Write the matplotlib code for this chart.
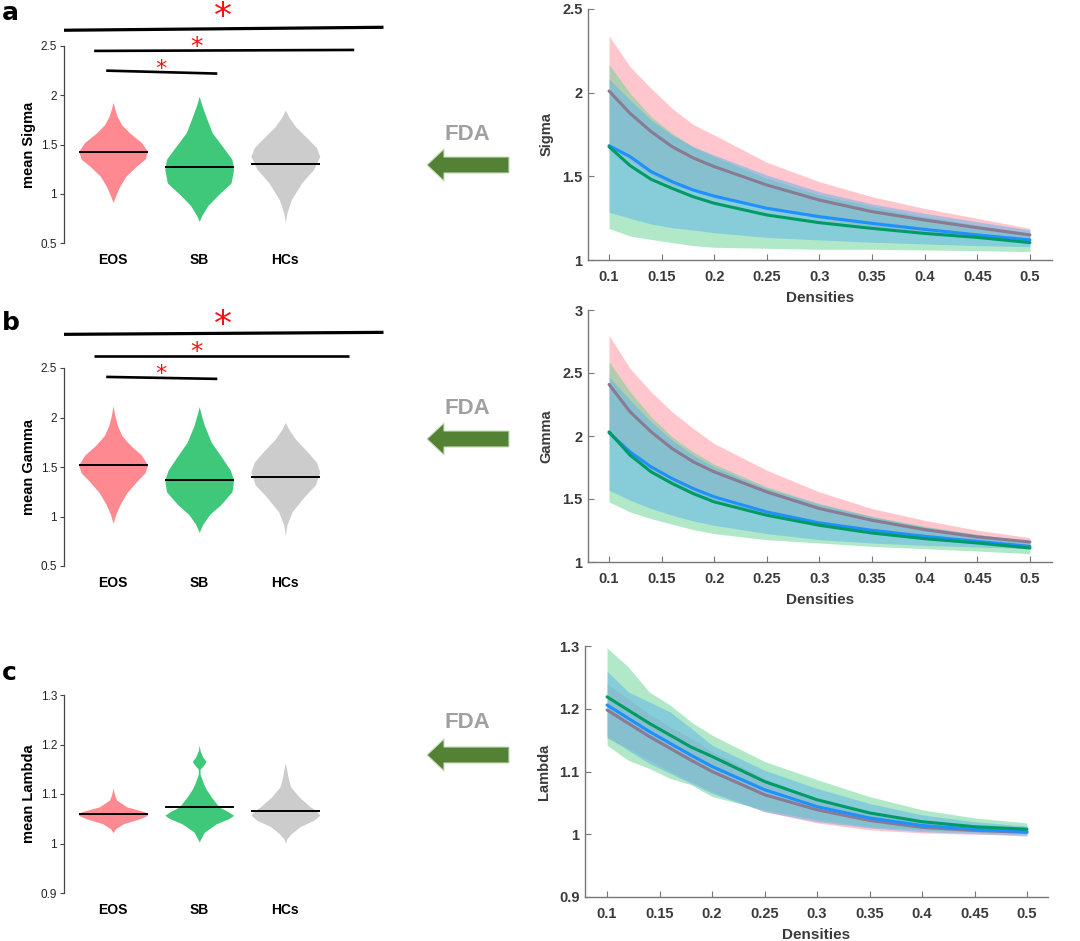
import matplotlib
matplotlib.use("Agg")
import matplotlib.pyplot as plt
from matplotlib.patches import FancyArrow

plt.rcParams["font.family"] = ["Liberation Sans", "DejaVu Sans"]

W, H = 1080, 941

groups = ["EOS", "SB", "HCs"]
violin_colors = ["#FF7F87", "#2EC46E", "#C8C8C8"]

# ---- violin outlines: y positions and half widths ----
sigma_violin_y = [
    [0.91, 0.98, 1.08, 1.18, 1.28, 1.35, 1.43, 1.52, 1.62, 1.70, 1.78, 1.86, 1.93],
    [0.72, 0.78, 0.88, 0.98, 1.11, 1.25, 1.35, 1.48, 1.62, 1.78, 1.90, 1.99],
    [0.71, 0.81, 0.94, 1.11, 1.25, 1.38, 1.47, 1.55, 1.68, 1.78, 1.85],
]
sigma_violin_w = [
    [0.0, 0.03, 0.08, 0.15, 0.27, 0.37, 0.40, 0.33, 0.19, 0.10, 0.05, 0.02, 0.0],
    [0.0, 0.03, 0.10, 0.21, 0.37, 0.40, 0.38, 0.27, 0.15, 0.08, 0.03, 0.0],
    [0.0, 0.02, 0.07, 0.19, 0.33, 0.40, 0.36, 0.27, 0.12, 0.04, 0.0],
]
sigma_means = [1.42, 1.27, 1.30]

gamma_violin_y = [
    [0.93, 1.02, 1.12, 1.24, 1.36, 1.44, 1.52, 1.62, 1.72, 1.82, 1.92, 2.02, 2.12],
    [0.84, 0.92, 1.02, 1.12, 1.25, 1.37, 1.47, 1.60, 1.75, 1.92, 2.04, 2.11],
    [0.81, 0.92, 1.05, 1.20, 1.32, 1.45, 1.55, 1.65, 1.78, 1.88, 1.95],
]
gamma_violin_w = [
    [0.0, 0.03, 0.08, 0.16, 0.28, 0.37, 0.40, 0.33, 0.20, 0.10, 0.05, 0.02, 0.0],
    [0.0, 0.04, 0.12, 0.25, 0.38, 0.40, 0.36, 0.26, 0.14, 0.06, 0.02, 0.0],
    [0.0, 0.02, 0.08, 0.22, 0.35, 0.40, 0.36, 0.26, 0.12, 0.04, 0.0],
]
gamma_means = [1.52, 1.37, 1.40]

lambda_violin_y = [
    [1.022, 1.03, 1.04, 1.05, 1.057, 1.064, 1.074, 1.088, 1.10, 1.112],
    [1.003, 1.01, 1.023, 1.04, 1.05, 1.057, 1.065, 1.074, 1.094, 1.11, 1.121,
     1.14, 1.15, 1.158, 1.166, 1.175, 1.188, 1.199],
    [1.001, 1.01, 1.02, 1.034, 1.047, 1.057, 1.066, 1.074, 1.094, 1.115, 1.135,
     1.155, 1.162],
]
lambda_violin_w = [
    [0.0, 0.03, 0.12, 0.31, 0.40, 0.37, 0.16, 0.04, 0.015, 0.0],
    [0.0, 0.02, 0.06, 0.20, 0.34, 0.40, 0.33, 0.23, 0.14, 0.08, 0.05,
     0.01, 0.01, 0.05, 0.08, 0.04, 0.01, 0.0],
    [0.0, 0.02, 0.07, 0.17, 0.33, 0.40, 0.36, 0.29, 0.16, 0.06, 0.03, 0.01, 0.0],
]
lambda_means = [1.059, 1.074, 1.066]

# ---- FDA curves (mean and band edges) ----
densities = [0.1, 0.12, 0.14, 0.16, 0.18, 0.2, 0.25, 0.3, 0.35, 0.4, 0.45, 0.5]
density_ticks = [0.1, 0.15, 0.2, 0.25, 0.3, 0.35, 0.4, 0.45, 0.5]
density_labels = ["0.1", "0.15", "0.2", "0.25", "0.3", "0.35", "0.4", "0.45", "0.5"]

eos_sigma_mean = [2.01, 1.876, 1.767, 1.677, 1.61, 1.558, 1.448, 1.358, 1.289, 1.239, 1.193, 1.15]
eos_sigma_upper = [2.34, 2.155, 2.026, 1.906, 1.81, 1.747, 1.584, 1.468, 1.378, 1.308, 1.249, 1.189]
eos_sigma_lower = [1.68, 1.597, 1.508, 1.448, 1.41, 1.369, 1.312, 1.248, 1.20, 1.17, 1.137, 1.111]
sb_sigma_mean = [1.677, 1.564, 1.482, 1.428, 1.378, 1.339, 1.269, 1.223, 1.189, 1.159, 1.135, 1.104]
sb_sigma_upper = [2.169, 1.996, 1.857, 1.757, 1.677, 1.618, 1.488, 1.388, 1.319, 1.259, 1.209, 1.159]
sb_sigma_lower = [1.189, 1.143, 1.123, 1.104, 1.086, 1.076, 1.07, 1.064, 1.064, 1.06, 1.056, 1.05]
hc_sigma_mean = [1.683, 1.618, 1.528, 1.468, 1.418, 1.382, 1.309, 1.259, 1.219, 1.183, 1.15, 1.12]
hc_sigma_upper = [2.082, 1.956, 1.837, 1.747, 1.677, 1.627, 1.508, 1.408, 1.335, 1.279, 1.229, 1.18]
hc_sigma_lower = [1.285, 1.249, 1.215, 1.193, 1.179, 1.163, 1.135, 1.12, 1.106, 1.096, 1.086, 1.08]

eos_gamma_mean = [2.409, 2.192, 2.033, 1.90, 1.795, 1.715, 1.556, 1.424, 1.331, 1.257, 1.199, 1.159]
eos_gamma_upper = [2.80, 2.536, 2.351, 2.192, 2.06, 1.94, 1.728, 1.556, 1.424, 1.331, 1.252, 1.193]
eos_gamma_lower = [2.018, 1.848, 1.715, 1.608, 1.53, 1.49, 1.384, 1.292, 1.238, 1.183, 1.146, 1.125]
sb_gamma_mean = [2.033, 1.848, 1.715, 1.623, 1.543, 1.477, 1.371, 1.291, 1.23, 1.185, 1.151, 1.111]
sb_gamma_upper = [2.589, 2.351, 2.152, 1.993, 1.874, 1.776, 1.596, 1.464, 1.363, 1.284, 1.22, 1.167]
sb_gamma_lower = [1.477, 1.397, 1.344, 1.30, 1.257, 1.225, 1.177, 1.151, 1.124, 1.106, 1.087, 1.066]
hc_gamma_mean = [2.025, 1.874, 1.755, 1.662, 1.583, 1.517, 1.397, 1.31, 1.252, 1.204, 1.164, 1.124]
hc_gamma_upper = [2.47, 2.285, 2.113, 1.967, 1.848, 1.755, 1.583, 1.458, 1.358, 1.278, 1.217, 1.167]
hc_gamma_lower = [1.57, 1.49, 1.424, 1.371, 1.326, 1.291, 1.225, 1.177, 1.151, 1.132, 1.119, 1.106]

eos_lambda_mean = [1.198, 1.177, 1.156, 1.137, 1.118, 1.10, 1.063, 1.039, 1.022, 1.011, 1.006, 1.003]
eos_lambda_upper = [1.24, 1.216, 1.192, 1.171, 1.153, 1.132, 1.089, 1.057, 1.036, 1.02, 1.012, 1.009]
eos_lambda_lower = [1.153, 1.137, 1.118, 1.10, 1.084, 1.068, 1.036, 1.018, 1.007, 1.002, 1.0, 0.999]
sb_lambda_mean = [1.219, 1.198, 1.177, 1.158, 1.139, 1.124, 1.084, 1.055, 1.034, 1.02, 1.012, 1.008]
sb_lambda_upper = [1.297, 1.267, 1.227, 1.206, 1.179, 1.158, 1.116, 1.087, 1.06, 1.039, 1.026, 1.018]
sb_lambda_lower = [1.142, 1.118, 1.105, 1.089, 1.079, 1.06, 1.039, 1.023, 1.012, 1.007, 1.004, 1.0015]
hc_lambda_mean = [1.206, 1.185, 1.164, 1.145, 1.126, 1.108, 1.071, 1.044, 1.026, 1.014, 1.008, 1.004]
hc_lambda_upper = [1.26, 1.227, 1.211, 1.195, 1.169, 1.142, 1.102, 1.073, 1.049, 1.031, 1.02, 1.013]
hc_lambda_lower = [1.155, 1.134, 1.113, 1.097, 1.081, 1.065, 1.036, 1.02, 1.01, 1.004, 1.001, 0.997]

BAND_COLORS = {"eos": "#FF919D", "sb": "#65D391", "hc": "#5CB3EC"}
LINE_COLORS = {"eos": "#8A7A93", "sb": "#009B64", "hc": "#1E90FF"}
DARK = "#3A3A3A"


def px_axes(fig, left, top, right, bottom):
    return fig.add_axes([left / W, (H - bottom) / H, (right - left) / W, (bottom - top) / H])


def draw_violins(ax, ys, ws, means, ylim, yticks, ylabel):
    for i, (y, w, m) in enumerate(zip(ys, ws, means)):
        c = i + 1
        ax.fill_betweenx(y, [c - v for v in w], [c + v for v in w],
                         color=violin_colors[i], alpha=0.92, lw=0)
        ax.hlines(m, c - 0.4, c + 0.4, color="black", lw=1.4, zorder=3)
    ax.set_xlim(0.43, 3.6)
    ax.set_ylim(*ylim)
    ax.set_yticks(yticks)
    ax.set_yticklabels([f"{t:g}" for t in yticks], fontsize=8.5, color="#222222")
    ax.set_xticks([1, 2, 3])
    ax.set_xticklabels(groups, fontsize=10, fontweight="bold")
    ax.tick_params(axis="x", length=0, pad=7)
    ax.tick_params(axis="y", length=3, width=0.8, color="#444444", pad=2)
    for s in ["top", "right", "bottom"]:
        ax.spines[s].set_visible(False)
    ax.spines["left"].set_color("#444444")
    ax.spines["left"].set_linewidth(0.9)
    ax.set_ylabel(ylabel, fontsize=10.5, fontweight="bold", labelpad=3)


def draw_sig(ax, bars):
    # bars: (x0, x1, y0, y1, lw, star_x, star_y, star_size)
    for x0, x1, y0, y1, lw, sx, sy, fs in bars:
        ax.plot([x0, x1], [y0, y1], color="black", lw=lw, clip_on=False,
                solid_capstyle="butt")
        ax.text(sx, sy, "*", color="#FF1010", fontsize=fs, ha="center", va="center",
                clip_on=False, family="DejaVu Sans")


def draw_fda(ax, curves, ylim, yticks, ylabel, xlim):
    for key in ["eos", "sb", "hc"]:
        m, up, lo = curves[key]
        ax.fill_between(densities, lo, up, color=BAND_COLORS[key], alpha=0.5, lw=0)
    for key in ["eos", "hc", "sb"]:
        m, up, lo = curves[key]
        ax.plot(densities, m, color=LINE_COLORS[key], lw=2.2, solid_capstyle="round")
    ax.set_xlim(*xlim)
    ax.set_ylim(*ylim)
    ax.set_xticks(density_ticks)
    ax.set_xticklabels(density_labels)
    ax.set_yticks(yticks)
    ax.set_yticklabels([f"{t:g}" for t in yticks])
    for lab in ax.get_xticklabels() + ax.get_yticklabels():
        lab.set_fontweight("bold")
        lab.set_fontsize(10.5)
        lab.set_color(DARK)
    ax.tick_params(direction="in", length=4, width=0.8, color="#777777")
    ax.tick_params(axis="x", pad=7)
    ax.tick_params(axis="y", pad=4)
    for s in ["top", "right"]:
        ax.spines[s].set_visible(False)
    for s in ["left", "bottom"]:
        ax.spines[s].set_color("#777777")
        ax.spines[s].set_linewidth(1.0)
    ax.set_xlabel("Densities", fontsize=11, fontweight="bold", color=DARK, labelpad=5)
    ax.set_ylabel(ylabel, fontsize=10.5, fontweight="bold", color=DARK, labelpad=6)


fig = plt.figure(figsize=(W / 100, H / 100), dpi=100)

# left: violins
ax_la = px_axes(fig, 64, 46, 337, 243)
draw_violins(ax_la, sigma_violin_y, sigma_violin_w, sigma_means,
             (0.5, 2.5), [0.5, 1, 1.5, 2, 2.5], "mean Sigma")
draw_sig(ax_la, [
    (0.43, 4.14, 2.66, 2.69, 2.3, 2.27, 2.79, 26),
    (0.78, 3.80, 2.45, 2.46, 1.9, 1.97, 2.49, 18),
    (0.92, 2.21, 2.25, 2.22, 1.9, 1.56, 2.27, 16),
])

ax_lb = px_axes(fig, 64, 368, 337, 566)
draw_violins(ax_lb, gamma_violin_y, gamma_violin_w, gamma_means,
             (0.5, 2.5), [0.5, 1, 1.5, 2, 2.5], "mean Gamma")
draw_sig(ax_lb, [
    (0.43, 4.14, 2.84, 2.86, 2.3, 2.27, 2.93, 26),
    (0.78, 3.74, 2.62, 2.62, 1.9, 1.97, 2.66, 18),
    (0.92, 2.21, 2.41, 2.39, 1.9, 1.56, 2.44, 16),
])

ax_lc = px_axes(fig, 64, 695, 337, 893)
draw_violins(ax_lc, lambda_violin_y, lambda_violin_w, lambda_means,
             (0.9, 1.3), [0.9, 1, 1.1, 1.2, 1.3], "mean Lambda")

# right: FDA curves
ax_ra = px_axes(fig, 588, 9, 1052, 260)
draw_fda(ax_ra, {
    "eos": (eos_sigma_mean, eos_sigma_upper, eos_sigma_lower),
    "sb": (sb_sigma_mean, sb_sigma_upper, sb_sigma_lower),
    "hc": (hc_sigma_mean, hc_sigma_upper, hc_sigma_lower),
}, (1, 2.5), [1, 1.5, 2, 2.5], "Sigma", (0.08, 0.521))

ax_rb = px_axes(fig, 588, 310, 1052, 562)
draw_fda(ax_rb, {
    "eos": (eos_gamma_mean, eos_gamma_upper, eos_gamma_lower),
    "sb": (sb_gamma_mean, sb_gamma_upper, sb_gamma_lower),
    "hc": (hc_gamma_mean, hc_gamma_upper, hc_gamma_lower),
}, (1, 3), [1, 1.5, 2, 2.5, 3], "Gamma", (0.08, 0.521))

ax_rc = px_axes(fig, 585, 646, 1048, 897)
draw_fda(ax_rc, {
    "eos": (eos_lambda_mean, eos_lambda_upper, eos_lambda_lower),
    "sb": (sb_lambda_mean, sb_lambda_upper, sb_lambda_lower),
    "hc": (hc_lambda_mean, hc_lambda_upper, hc_lambda_lower),
}, (0.9, 1.3), [0.9, 1, 1.1, 1.2, 1.3], "Lambda", (0.079, 0.52))

# overlay in pixel units for panel letters and FDA arrows
ov = fig.add_axes([0, 0, 1, 1], zorder=5)
ov.set_xlim(0, W)
ov.set_ylim(H, 0)
ov.axis("off")

for letter, y in [("a", 13), ("b", 323), ("c", 673)]:
    ov.text(2, y, letter, fontsize=18, fontweight="heavy", ha="left", va="center",
            family="DejaVu Sans")

for text_y, arrow_y in [(134, 165), (409, 439), (722, 755)]:
    ov.text(467, text_y, "FDA", fontsize=16, fontweight="bold", color="#A0A0A0",
            ha="center", va="center")
    ov.add_patch(FancyArrow(509, arrow_y, -82, 0, width=16, head_width=32,
                            head_length=17, length_includes_head=True,
                            facecolor="#548235", edgecolor="#C9DDBF", lw=0.8))

fig.savefig("out.png", dpi=100)
